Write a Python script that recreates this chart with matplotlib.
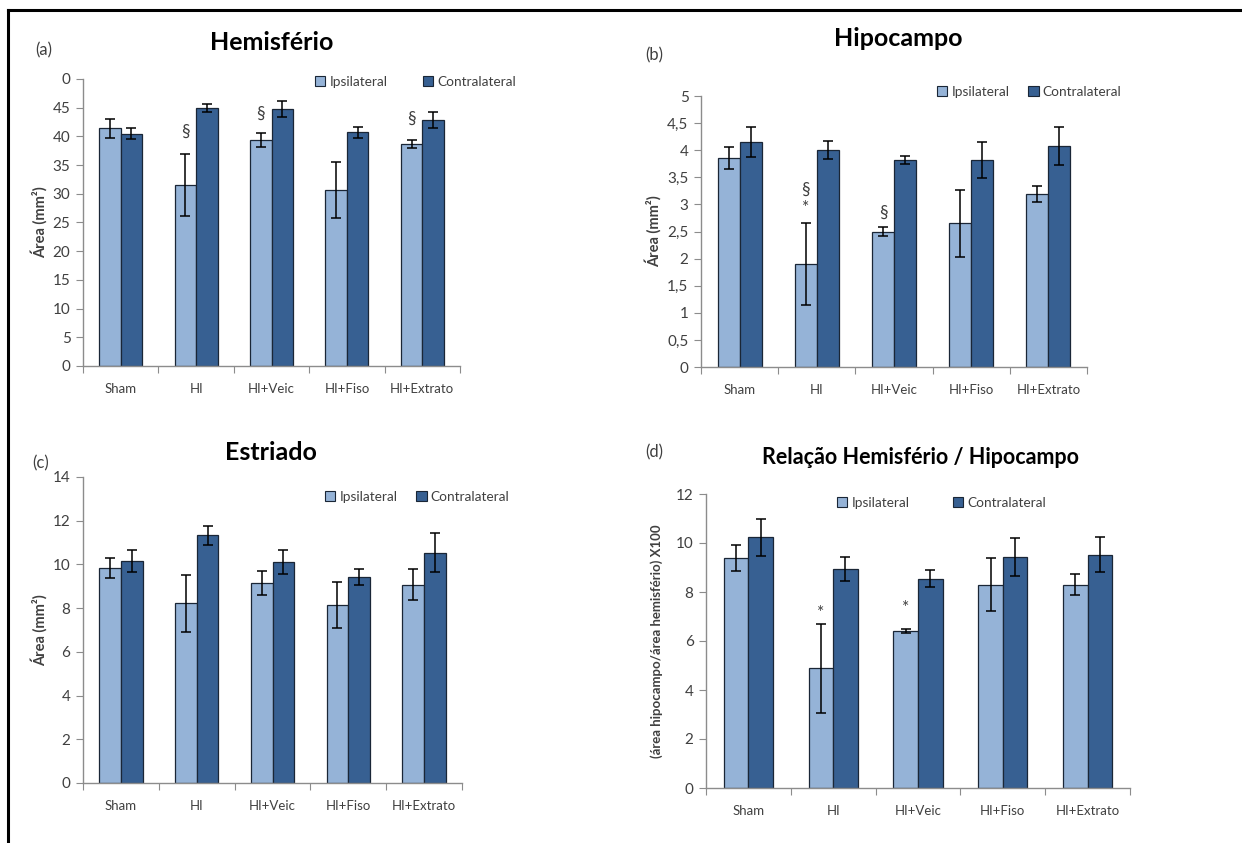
import matplotlib
matplotlib.use("Agg")
import matplotlib.pyplot as plt
from matplotlib.patches import Patch
from matplotlib.lines import Line2D
import numpy as np

plt.rcParams['font.family'] = ['Lato', 'DejaVu Sans']

groups = ["Sham", "HI", "HI+Veic", "HI+Fiso", "HI+Extrato"]
series_names = ["Ipsilateral", "Contralateral"]

# (a) Hemisfério
hem_ipsi = [41.4, 31.5, 39.4, 30.6, 38.7]
hem_ipsi_err = [1.6, 5.4, 1.2, 4.9, 0.7]
hem_contra = [40.5, 45.0, 44.7, 40.7, 42.8]
hem_contra_err = [1.0, 0.7, 1.4, 0.9, 1.4]

# (b) Hipocampo
hip_ipsi = [3.85, 1.9, 2.5, 2.65, 3.19]
hip_ipsi_err = [0.2, 0.75, 0.08, 0.62, 0.15]
hip_contra = [4.15, 4.0, 3.82, 3.82, 4.07]
hip_contra_err = [0.27, 0.17, 0.08, 0.33, 0.35]

# (c) Estriado
est_ipsi = [9.85, 8.22, 9.13, 8.15, 9.07]
est_ipsi_err = [0.45, 1.3, 0.55, 1.05, 0.72]
est_contra = [10.16, 11.33, 10.1, 9.44, 10.54]
est_contra_err = [0.5, 0.43, 0.56, 0.36, 0.9]

# (d) Relação hemisfério / hipocampo
rel_ipsi = [9.37, 4.88, 6.39, 8.3, 8.3]
rel_ipsi_err = [0.53, 1.83, 0.08, 1.07, 0.42]
rel_contra = [10.23, 8.94, 8.55, 9.43, 9.52]
rel_contra_err = [0.76, 0.49, 0.33, 0.77, 0.72]

ticks_a = [0, 5, 10, 15, 20, 25, 30, 35, 40, 45, 50]
ticklabels_a = ["0", "5", "10", "15", "20", "25", "30", "35", "40", "45", "0"]
ticks_b = [0, 0.5, 1, 1.5, 2, 2.5, 3, 3.5, 4, 4.5, 5]
ticklabels_b = ["0", "0,5", "1", "1,5", "2", "2,5", "3", "3,5", "4", "4,5", "5"]
ticks_c = [0, 2, 4, 6, 8, 10, 12, 14]
ticks_d = [0, 2, 4, 6, 8, 10, 12]

# significance marks: (group index, y value, symbol), placed over the ipsilateral bar
marks_a = [(1, 40.8, "§"), (2, 43.9, "§"), (4, 43.0, "§")]
marks_b = [(1, 3.27, "§"), (1, 2.93, "*"), (2, 2.84, "§")]
marks_d = [(1, 7.15, "*"), (2, 7.33, "*")]

LIGHT = "#95b3d7"
DARK = "#376092"
EDGE = "#1a2636"
AXIS = "#8c8c8c"
TXT = "#404040"

fig = plt.figure(figsize=(12.42, 8.43), dpi=100)
fig.patch.set_facecolor("white")

# frame lines around the figure
fig.add_artist(Line2D([8 / 1242, 1.0], [1 - 10 / 843, 1 - 10 / 843], color="black", lw=2.2))
fig.add_artist(Line2D([8 / 1242, 8 / 1242], [0.0, 1 - 10 / 843], color="black", lw=2.2))


def px(x0, y0, x1, y1):
    return [x0 / 1242, 1 - y1 / 843, (x1 - x0) / 1242, (y1 - y0) / 843]


def panel(rect, ipsi, ipsi_err, contra, contra_err, ymax, ticks, ticklabels,
          title, title_xy, letter, letter_xy, ylabel, legend_xy, width, marks,
          ylabel_size=10.5, ylabel_pad=4, colsp=2.2, title_size=18):
    ax = fig.add_axes(rect)
    x = np.arange(len(groups))
    ek = dict(ecolor="black", elinewidth=1.1, capsize=3.5, capthick=1.1)
    ax.bar(x - width / 2, ipsi, width, yerr=ipsi_err, color=LIGHT,
           edgecolor=EDGE, linewidth=0.9, error_kw=ek, zorder=2)
    ax.bar(x + width / 2, contra, width, yerr=contra_err, color=DARK,
           edgecolor=EDGE, linewidth=0.9, error_kw=ek, zorder=2)
    ax.set_xlim(-0.5, len(groups) - 0.5)
    ax.set_ylim(0, ymax)
    ax.set_yticks(ticks)
    ax.set_yticklabels(ticklabels, fontsize=11, color=TXT)
    ax.set_xticks(np.arange(-0.5, len(groups)), labels=[""] * (len(groups) + 1))
    ax.set_xticks(x, labels=groups, minor=True)
    ax.tick_params(axis="x", which="major", length=5, color=AXIS, direction="out")
    ax.tick_params(axis="x", which="minor", length=0, labelsize=9.5, labelcolor=TXT, pad=12)
    ax.tick_params(axis="y", length=5, color=AXIS, direction="out", pad=4)
    for s in ("top", "right"):
        ax.spines[s].set_visible(False)
    for s in ("left", "bottom"):
        ax.spines[s].set_color(AXIS)
        ax.spines[s].set_linewidth(1.0)
    ax.set_ylabel(ylabel, fontsize=ylabel_size, fontweight="bold", color=TXT,
                  labelpad=ylabel_pad)
    for gi, yv, sym in marks:
        ax.text(gi - width / 2, yv, sym, ha="center", va="center",
                fontsize=12.5, color=TXT)
    fig.text(title_xy[0] / 1242, 1 - title_xy[1] / 843, title, ha="center",
             va="center", fontsize=title_size, fontweight="bold", color="black")
    fig.text(letter_xy[0] / 1242, 1 - letter_xy[1] / 843, letter, ha="center",
             va="center", fontsize=12, color=TXT)
    handles = [Patch(facecolor=LIGHT, edgecolor=EDGE, linewidth=0.8),
               Patch(facecolor=DARK, edgecolor=EDGE, linewidth=0.8)]
    fig.legend(handles, series_names, loc="center left",
               bbox_to_anchor=(legend_xy[0] / 1242, 1 - legend_xy[1] / 843),
               ncol=2, frameon=False, fontsize=9.8, handlelength=0.75,
               handleheight=0.75, handletextpad=0.3, columnspacing=colsp,
               labelcolor=TXT, borderaxespad=0, borderpad=0)
    return ax


panel(px(83, 79, 460, 366), hem_ipsi, hem_ipsi_err, hem_contra, hem_contra_err,
      50, ticks_a, ticklabels_a, "Hemisfério", (272, 43), "(a)", (44, 50),
      "Área (mm²)", (315, 82), 0.285, marks_a, colsp=2.6)

panel(px(701, 96, 1087, 367), hip_ipsi, hip_ipsi_err, hip_contra, hip_contra_err,
      5, ticks_b, ticklabels_b, "Hipocampo", (898, 38), "(b)", (654, 55),
      "Área (mm²)", (937, 92), 0.285, marks_b, colsp=1.4)

panel(px(83, 477, 462, 783), est_ipsi, est_ipsi_err, est_contra, est_contra_err,
      14, ticks_c, [str(t) for t in ticks_c], "Estriado", (271, 452), "(c)",
      (41, 463), "Área (mm²)", (325, 497), 0.285, [], colsp=1.4)

panel(px(706, 494, 1130, 788), rel_ipsi, rel_ipsi_err, rel_contra, rel_contra_err,
      12, ticks_d, [str(t) for t in ticks_d], "Relação Hemisfério / Hipocampo",
      (920, 457), "(d)", (654, 452), "(área hipocampo/área hemisfério) X100",
      (837, 503), 0.29, marks_d, ylabel_size=9.5, ylabel_pad=9, colsp=3.2,
      title_size=15.5)

fig.savefig("out.png", dpi=100, facecolor="white")
